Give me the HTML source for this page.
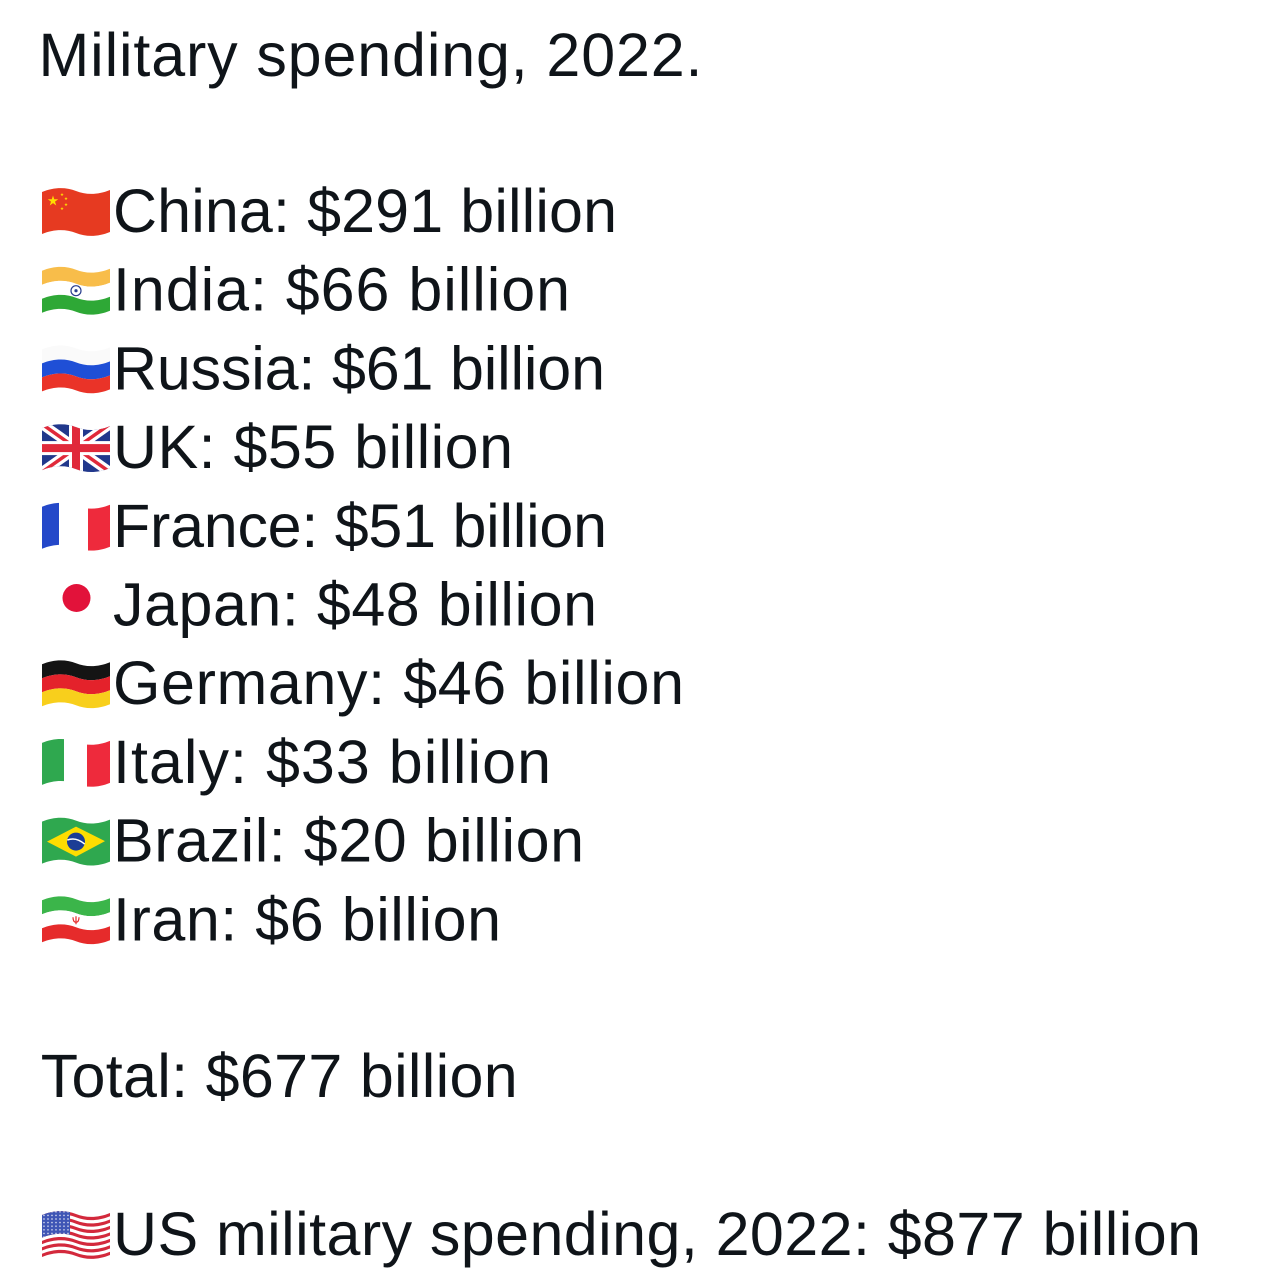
<!DOCTYPE html>
<html>
<head>
<meta charset="utf-8">
<style>
  html, body { margin: 0; padding: 0; background: #ffffff; }
  body { width: 1286px; height: 1280px; overflow: hidden; }
  svg { display: block; }
  text { font-family: "Liberation Sans", "DejaVu Sans", sans-serif; font-size: 61px; fill: #0f1419; }
</style>
</head>
<body>
<svg width="1286" height="1280" viewBox="0 0 1286 1280" xmlns="http://www.w3.org/2000/svg">
  <defs>
    <clipPath id="fc"><path d="M0,5 C12,0 24,0 34,4 C44,8 56,8 68,3 L68,45 C56,50 44,50 34,46 C24,42 12,42 0,47 Z"/></clipPath>
    <clipPath id="cant"><rect x="0" y="-5" width="28" height="60"/></clipPath>
    <polygon id="star" points="0,-1 0.2245,-0.309 0.951,-0.309 0.363,0.118 0.588,0.809 0,0.382 -0.588,0.809 -0.363,0.118 -0.951,-0.309 -0.2245,-0.309"/>
    <pattern id="dots" width="4" height="3.6" patternUnits="userSpaceOnUse">
      <circle cx="2" cy="1.8" r="0.8" fill="#ffffff" opacity="0.85"/>
    </pattern>
  </defs>

  <rect x="0" y="0" width="1286" height="1280" fill="#ffffff"/>

  <!-- Title -->
  <text x="38.5" y="76" textLength="664" lengthAdjust="spacing">Military spending, 2022.</text>

  <!-- China -->
  <g transform="translate(42,187)">
    <path d="M0,5 C12,0 24,0 34,4 C44,8 56,8 68,3 L68,45 C56,50 44,50 34,46 C24,42 12,42 0,47 Z" fill="#e63a21"/>
    <use href="#star" transform="translate(11,14) scale(5.5)" fill="#ffde00"/>
    <use href="#star" transform="translate(20,7.5) scale(1.8)" fill="#ffde00"/>
    <use href="#star" transform="translate(24,11.5) scale(1.8)" fill="#ffde00"/>
    <use href="#star" transform="translate(24,17.5) scale(1.8)" fill="#ffde00"/>
    <use href="#star" transform="translate(20,21.5) scale(1.8)" fill="#ffde00"/>
  </g>
  <text x="113" y="232" textLength="504" lengthAdjust="spacing">China: $291 billion</text>

  <!-- India -->
  <g transform="translate(42,265.7)">
    <path d="M0,5 C12,0 24,0 34,4 C44,8 56,8 68,3 L68,17 C56,22 44,22 34,18 C24,14 12,14 0,19 Z" fill="#f8bd4a"/>
    <path d="M0,19 C12,14 24,14 34,18 C44,22 56,22 68,17 L68,31 C56,36 44,36 34,32 C24,28 12,28 0,33 Z" fill="#ffffff"/>
    <path d="M0,33 C12,28 24,28 34,32 C44,36 56,36 68,31 L68,45 C56,50 44,50 34,46 C24,42 12,42 0,47 Z" fill="#2ea836"/>
    <circle cx="34" cy="25" r="5" fill="none" stroke="#2a3f8f" stroke-width="1.2"/>
    <circle cx="34" cy="25" r="1.6" fill="#2a3f8f"/>
  </g>
  <text x="113" y="310.7" textLength="457" lengthAdjust="spacing">India: $66 billion</text>

  <!-- Russia -->
  <g transform="translate(42,344.4)">
    <path d="M0,5 C12,0 24,0 34,4 C44,8 56,8 68,3 L68,17 C56,22 44,22 34,18 C24,14 12,14 0,19 Z" fill="#fafafa"/>
    <path d="M0,19 C12,14 24,14 34,18 C44,22 56,22 68,17 L68,31 C56,36 44,36 34,32 C24,28 12,28 0,33 Z" fill="#1f4fd6"/>
    <path d="M0,33 C12,28 24,28 34,32 C44,36 56,36 68,31 L68,45 C56,50 44,50 34,46 C24,42 12,42 0,47 Z" fill="#ea3328"/>
  </g>
  <text x="113" y="389.4" textLength="492" lengthAdjust="spacing">Russia: $61 billion</text>

  <!-- UK -->
  <g transform="translate(42,423.1)">
    <g clip-path="url(#fc)">
      <rect x="0" y="0" width="68" height="50" fill="#21388c"/>
      <line x1="0" y1="1" x2="68" y2="49" stroke="#ffffff" stroke-width="10"/>
      <line x1="0" y1="49" x2="68" y2="1" stroke="#ffffff" stroke-width="10"/>
      <line x1="0" y1="1" x2="68" y2="49" stroke="#e0293a" stroke-width="3.5"/>
      <line x1="0" y1="49" x2="68" y2="1" stroke="#e0293a" stroke-width="3.5"/>
      <rect x="27" y="0" width="14" height="50" fill="#ffffff"/>
      <rect x="0" y="18" width="68" height="14" fill="#ffffff"/>
      <rect x="30" y="0" width="8" height="50" fill="#e0293a"/>
      <rect x="0" y="21" width="68" height="8" fill="#e0293a"/>
    </g>
  </g>
  <text x="113" y="468.1" textLength="400" lengthAdjust="spacing">UK: $55 billion</text>

  <!-- France -->
  <g transform="translate(42,501.8)">
    <g clip-path="url(#fc)">
      <rect x="0" y="0" width="17" height="50" fill="#2448c9"/>
      <rect x="46" y="0" width="22" height="50" fill="#ee2a3c"/>
    </g>
  </g>
  <text x="113" y="546.8" textLength="494" lengthAdjust="spacing">France: $51 billion</text>

  <!-- Japan -->
  <circle cx="76.5" cy="598" r="14" fill="#e2123a"/>
  <text x="113" y="625.5" textLength="484" lengthAdjust="spacing">Japan: $48 billion</text>

  <!-- Germany -->
  <g transform="translate(42,659.2)">
    <path d="M0,5 C12,0 24,0 34,4 C44,8 56,8 68,3 L68,17 C56,22 44,22 34,18 C24,14 12,14 0,19 Z" fill="#141414"/>
    <path d="M0,19 C12,14 24,14 34,18 C44,22 56,22 68,17 L68,31 C56,36 44,36 34,32 C24,28 12,28 0,33 Z" fill="#e4222b"/>
    <path d="M0,33 C12,28 24,28 34,32 C44,36 56,36 68,31 L68,45 C56,50 44,50 34,46 C24,42 12,42 0,47 Z" fill="#f8cf1c"/>
  </g>
  <text x="113" y="704.2" textLength="571" lengthAdjust="spacing">Germany: $46 billion</text>

  <!-- Italy -->
  <g transform="translate(42,737.9)">
    <g clip-path="url(#fc)">
      <rect x="0" y="0" width="22" height="50" fill="#2fa84f"/>
      <rect x="45" y="0" width="23" height="50" fill="#ee2a3c"/>
    </g>
  </g>
  <text x="113" y="782.9" textLength="438" lengthAdjust="spacing">Italy: $33 billion</text>

  <!-- Brazil -->
  <g transform="translate(42,816.6)">
    <path d="M0,5 C12,0 24,0 34,4 C44,8 56,8 68,3 L68,45 C56,50 44,50 34,46 C24,42 12,42 0,47 Z" fill="#2fa84f"/>
    <polygon points="5,25 34,10 63,24.5 34,40" fill="#fedd00"/>
    <circle cx="34" cy="25" r="9" fill="#1c3d95"/>
    <path d="M25.3,23.5 Q34,20 42.7,27.5" fill="none" stroke="#ffffff" stroke-width="1.5"/>
  </g>
  <text x="113" y="861.6" textLength="471" lengthAdjust="spacing">Brazil: $20 billion</text>

  <!-- Iran -->
  <g transform="translate(42,895.3)">
    <path d="M0,5 C12,0 24,0 34,4 C44,8 56,8 68,3 L68,17 C56,22 44,22 34,18 C24,14 12,14 0,19 Z" fill="#3bb54a"/>
    <path d="M0,19 C12,14 24,14 34,18 C44,22 56,22 68,17 L68,31 C56,36 44,36 34,32 C24,28 12,28 0,33 Z" fill="#ffffff"/>
    <path d="M0,33 C12,28 24,28 34,32 C44,36 56,36 68,31 L68,45 C56,50 44,50 34,46 C24,42 12,42 0,47 Z" fill="#e62b2b"/>
    <path d="M31,22 Q31,27 34,27 Q37,27 37,22 M34,21 L34,29" fill="none" stroke="#e62b2b" stroke-width="1.2"/>
  </g>
  <text x="113" y="940.3" textLength="388" lengthAdjust="spacing">Iran: $6 billion</text>

  <!-- Total -->
  <text x="40.7" y="1097" textLength="477" lengthAdjust="spacing">Total: $677 billion</text>

  <!-- US -->
  <g transform="translate(42,1210)">
    <path d="M0,5 C12,0 24,0 34,4 C44,8 56,8 68,3 L68,45 C56,50 44,50 34,46 C24,42 12,42 0,47 Z" fill="#ffffff"/>
    <g fill="#d3293c">
      <path d="M0,5 C12,0 24,0 34,4 C44,8 56,8 68,3 L68,6.23 C56,11.23 44,11.23 34,7.23 C24,3.23 12,3.23 0,8.23 Z"/>
      <path d="M0,11.46 C12,6.46 24,6.46 34,10.46 C44,14.46 56,14.46 68,9.46 L68,12.69 C56,17.69 44,17.69 34,13.69 C24,9.69 12,9.69 0,14.69 Z"/>
      <path d="M0,17.92 C12,12.92 24,12.92 34,16.92 C44,20.92 56,20.92 68,15.92 L68,19.15 C56,24.15 44,24.15 34,20.15 C24,16.15 12,16.15 0,21.15 Z"/>
      <path d="M0,24.38 C12,19.38 24,19.38 34,23.38 C44,27.38 56,27.38 68,22.38 L68,25.62 C56,30.62 44,30.62 34,26.62 C24,22.62 12,22.62 0,27.62 Z"/>
      <path d="M0,30.85 C12,25.85 24,25.85 34,29.85 C44,33.85 56,33.85 68,28.85 L68,32.08 C56,37.08 44,37.08 34,33.08 C24,29.08 12,29.08 0,34.08 Z"/>
      <path d="M0,37.31 C12,32.31 24,32.31 34,36.31 C44,40.31 56,40.31 68,35.31 L68,38.54 C56,43.54 44,43.54 34,39.54 C24,35.54 12,35.54 0,40.54 Z"/>
      <path d="M0,43.77 C12,38.77 24,38.77 34,42.77 C44,46.77 56,46.77 68,41.77 L68,45 C56,50 44,50 34,46 C24,42 12,42 0,47 Z"/>
    </g>
    <g clip-path="url(#cant)">
      <path d="M0,5 C12,0 24,0 34,4 C44,8 56,8 68,3 L68,25.62 C56,30.62 44,30.62 34,26.62 C24,22.62 12,22.62 0,27.62 Z" fill="#3f55b5"/>
      <path d="M0,5 C12,0 24,0 34,4 C44,8 56,8 68,3 L68,25.62 C56,30.62 44,30.62 34,26.62 C24,22.62 12,22.62 0,27.62 Z" fill="url(#dots)"/>
    </g>
  </g>
  <text x="113" y="1255" textLength="1088" lengthAdjust="spacing">US military spending, 2022: $877 billion</text>
</svg>
</body>
</html>
